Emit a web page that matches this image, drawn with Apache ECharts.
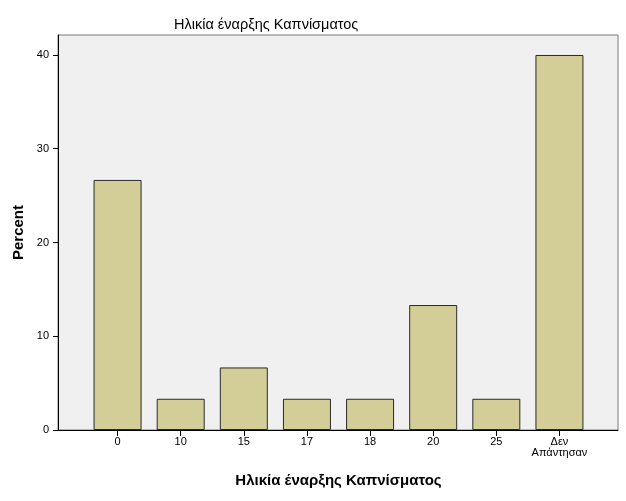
<!DOCTYPE html>
<html><head><meta charset="utf-8">
<script src="https://cdn.jsdelivr.net/npm/echarts@6/dist/echarts.min.js"></script>
<style>html,body{margin:0;padding:0;background:#fff}#c{width:626px;height:501px}</style>
</head><body><div id="c"></div>
<script>
const categories = ['0','10','15','17','18','20','25','Δεν\nΑπάντησαν'];
const percentValues = [26.67, 3.33, 6.67, 3.33, 3.33, 13.33, 3.33, 40.0];
const yTicks = [0, 10, 20, 30, 40];
const titleText = 'Ηλικία έναρξης Καπνίσματος';
const xName = 'Ηλικία έναρξης Καπνίσματος';
const yName = 'Percent';

const YMAX = 42.13;
const chart = echarts.init(document.getElementById('c'), null, {renderer:'canvas'});
chart.setOption({
  animation:false,
  textStyle:{fontFamily:'Arial, "Liberation Sans", sans-serif'},
  title:{text:titleText,left:169,top:12,textStyle:{fontSize:14.5,fontWeight:'normal',color:'#000',fontFamily:'Arial, "Liberation Sans", sans-serif'}},
  grid:[
    {left:58,right:8,top:35,bottom:71,show:true,backgroundColor:'#f0f0f0',borderColor:'#7a7a7a',borderWidth:1,containLabel:false},
    {left:86,right:35,top:35,bottom:71,containLabel:false}
  ],
  xAxis:[
    {gridIndex:0,type:'value',min:0,max:1,show:true,axisLine:{show:true,lineStyle:{color:'#000',width:1}},axisTick:{show:false},axisLabel:{show:false},splitLine:{show:false}},
    {gridIndex:1,type:'category',data:categories,boundaryGap:true,
      axisLine:{show:false},
      axisTick:{show:true,alignWithLabel:true,length:6,lineStyle:{color:'#000'}},
      axisLabel:{color:'#000',fontSize:11,margin:6,lineHeight:11,interval:0},
      name:xName,nameLocation:'middle',nameGap:43,
      nameTextStyle:{fontSize:15,fontWeight:'bold',color:'#000'}}
  ],
  yAxis:[
    {gridIndex:0,type:'value',min:0,max:YMAX,interval:10,
      axisLabel:{color:'#000',fontSize:11,margin:9,customValues:yTicks,formatter:v=>String(v)},
      axisTick:{show:true,length:5,inside:false,customValues:yTicks,lineStyle:{color:'#000'}},
      axisLine:{show:true,lineStyle:{color:'#000'}},
      splitLine:{show:false},
      name:yName,nameLocation:'middle',nameGap:29,nameRotate:90,
      nameTextStyle:{fontSize:15,fontWeight:'bold',color:'#000'}},
    {gridIndex:1,type:'value',min:0,max:YMAX,show:false,splitLine:{show:false}}
  ],
  series:[{
    type:'bar',xAxisIndex:1,yAxisIndex:1,data:percentValues,barWidth:48,
    itemStyle:{color:'#d3ce97',borderColor:'#2a2a2a',borderWidth:1}
  }]
});
</script></body></html>
